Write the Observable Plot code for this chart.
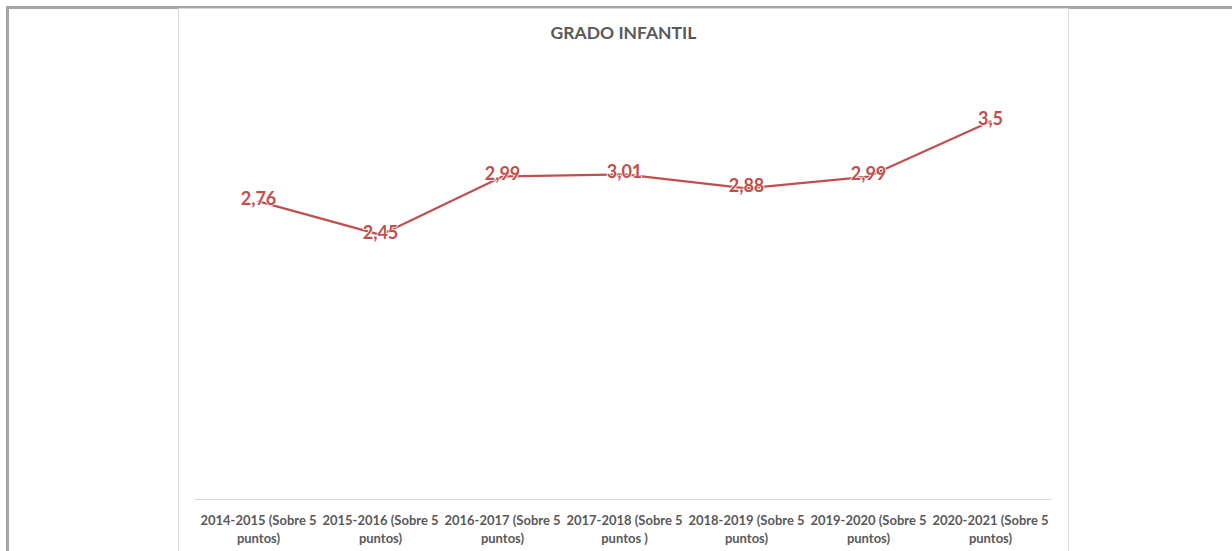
<!DOCTYPE html>
<html>
<head>
<meta charset="utf-8">
<script src="https://cdn.jsdelivr.net/npm/d3@7"></script>
<script src="https://cdn.jsdelivr.net/npm/@observablehq/plot@0.6"></script>
<style>
  html, body { margin: 0; padding: 0; background: #fff; }
  #wrap { position: relative; width: 1232px; height: 551px; overflow: hidden; font-family: Lato, "Open Sans", sans-serif; }
  #outer { position: absolute; left: 6px; top: 6px; width: 1300px; height: 600px; border-top: 3px solid #a6a6a6; border-left: 3px solid #a6a6a6; box-sizing: border-box; }
  #frame { position: absolute; left: 178px; top: 8px; width: 891px; height: 600px; border: 1px solid #d9d9d9; border-bottom: none; box-sizing: border-box; }
  #title { position: absolute; left: 178px; width: 891px; top: 22px; text-align: center; font-weight: bold; font-size: 17.5px; color: #595959; }
  #chart { position: absolute; left: 0; top: 0; }
</style>
</head>
<body>
<div id="wrap">
  <div id="outer"></div>
  <div id="frame"></div>
  <div id="title">GRADO INFANTIL</div>
  <div id="chart"></div>
</div>
<script>
const categories = [
  "2014-2015 (Sobre 5\npuntos)",
  "2015-2016 (Sobre 5\npuntos)",
  "2016-2017 (Sobre 5\npuntos)",
  "2017-2018 (Sobre 5\npuntos )",
  "2018-2019 (Sobre 5\npuntos)",
  "2019-2020 (Sobre 5\npuntos)",
  "2020-2021 (Sobre 5\npuntos)"
];
const values = [2.76, 2.45, 2.99, 3.01, 2.88, 2.99, 3.5];
const valueLabels = ["2,76", "2,45", "2,99", "3,01", "2,88", "2,99", "3,5"];

const data = categories.map((c, i) => ({cat: c, value: values[i], label: valueLabels[i]}));

const plot = Plot.plot({
  width: 1232,
  height: 551,
  marginLeft: 195,
  marginRight: 180,
  marginTop: 67,
  marginBottom: 52,
  style: {background: "transparent", fontFamily: "Lato, 'Open Sans', sans-serif"},
  x: {type: "point", domain: categories, padding: 0.5, label: null},
  y: {domain: [0, 4], axis: null},
  marks: [
    Plot.ruleY([0], {stroke: "#d9d9d9", strokeWidth: 1}),
    Plot.axisX({tickSize: 0, tickPadding: 13, fontSize: 13, fontWeight: "bold", fill: "#595959", lineHeight: 1.38, textAnchor: "middle", lineAnchor: "top", label: null}),
    Plot.line(data, {x: "cat", y: "value", stroke: "#C0504D", strokeWidth: 2.25}),
    Plot.text(data, {x: "cat", y: "value", text: "label", fill: "#C0504D", stroke: "white", strokeWidth: 1.5, paintOrder: "stroke", fontSize: 18, fontWeight: "bold", lineAnchor: "middle", dy: -2})
  ]
});
document.getElementById("chart").appendChild(plot);
</script>
</body>
</html>
